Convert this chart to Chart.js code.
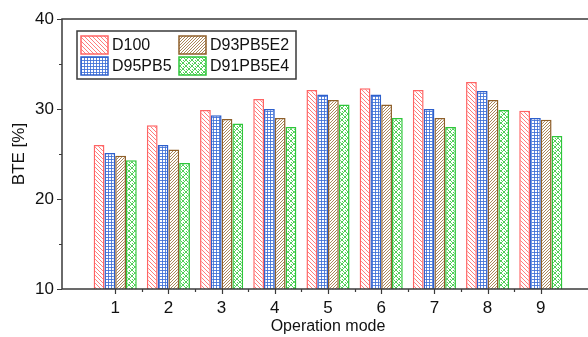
<!DOCTYPE html>
<html>
<head>
<meta charset="utf-8">
<script src="https://cdn.jsdelivr.net/npm/chart.js@4/dist/chart.umd.min.js"></script>
<style>
  html, body { margin: 0; padding: 0; background: #fff; overflow: hidden; }
  #wrap { position: relative; width: 600px; height: 337px; }
</style>
</head>
<body>
<div id="wrap"><canvas id="chart"></canvas></div>
<script>
// ── Data ──────────────────────────────────────────────────────────────────────
const modes      = [1, 2, 3, 4, 5, 6, 7, 8, 9];
const d100       = [26.0, 28.2, 29.9, 31.1, 32.1, 32.3, 32.1, 33.0, 29.8];
const d95pb5     = [25.1, 26.0, 29.3, 30.0, 31.6, 31.6, 30.0, 32.0, 29.0];
const d93pb5e2   = [24.8, 25.5, 28.9, 29.0, 31.0, 30.5, 29.0, 31.0, 28.8];
const d91pb5e4   = [24.3, 24.0, 28.4, 28.0, 30.5, 29.0, 28.0, 29.9, 27.0];
const yTicks     = [10, 20, 30, 40];

const FONT = "'Liberation Sans', Arial, sans-serif";
const AXIS = '#3a3a3a';

// ── Patterns ──────────────────────────────────────────────────────────────────
function tile(size, draw) {
    const c = document.createElement('canvas');
    c.width = size; c.height = size;
    const g = c.getContext('2d');
    g.fillStyle = '#fff';
    g.fillRect(0, 0, size, size);
    draw(g, size);
    return document.getElementById('chart').getContext('2d').createPattern(c, 'repeat');
}

const patRed = tile(4, (g, s) => {
    g.fillStyle = 'rgba(255,110,110,0.9)';
    for (let i = 0; i < s; i++) g.fillRect(i, i, 1, 1);
});
const patBlue = tile(3, (g, s) => {
    g.fillStyle = 'rgba(60,110,215,0.85)';
    g.fillRect(0, 0, s, 1);
    g.fillRect(0, 0, 1, s);
});
const patBrown = tile(3, (g, s) => {
    g.fillStyle = 'rgba(160,120,70,0.9)';
    for (let i = 0; i < s; i++) g.fillRect(s - 1 - i, i, 1, 1);
});
const patGreen = tile(6, (g, s) => {
    g.fillStyle = 'rgba(50,200,60,0.85)';
    for (let i = 0; i < s; i++) {
        g.fillRect(i, i, 1, 1);
        g.fillRect(s - 1 - i, i, 1, 1);
    }
    g.fillRect(0, 3, 1, 1);
    g.fillRect(3, 0, 1, 1);
});

const series = [
    { label: 'D100',     values: d100,     fill: patRed,   border: '#ff6464' },
    { label: 'D95PB5',   values: d95pb5,   fill: patBlue,  border: '#2d5fcc' },
    { label: 'D93PB5E2', values: d93pb5e2, fill: patBrown, border: '#8e5f2a' },
    { label: 'D91PB5E4', values: d91pb5e4, fill: patGreen, border: '#2ec63a' }
];

// ── Frame, ticks and legend ──────────────────────────────────────────────────
const framePlugin = {
    id: 'frame',
    afterDraw(chart) {
        const { ctx, chartArea: a, scales: { x, y } } = chart;
        ctx.save();
        ctx.strokeStyle = AXIS;
        ctx.lineWidth = 1.5;
        ctx.strokeRect(a.left, a.top, a.right - a.left, a.bottom - a.top);

        ctx.lineWidth = 1.2;
        ctx.beginPath();
        for (let v = 10; v <= 40; v += 5) {
            const py = Math.round(y.getPixelForValue(v)) + 0.5;
            const len = v % 10 === 0 ? 5 : 3;
            ctx.moveTo(a.left - len, py);
            ctx.lineTo(a.left, py);
        }
        modes.forEach(m => {
            const px = Math.round(x.getPixelForValue(m)) + 0.5;
            ctx.moveTo(px, a.bottom);
            ctx.lineTo(px, a.bottom + 5);
            if (m < 9) {
                const mx = Math.round(x.getPixelForValue(m + 0.5)) + 0.5;
                ctx.moveTo(mx, a.bottom);
                ctx.lineTo(mx, a.bottom + 3);
            }
        });
        ctx.stroke();

        // legend box
        ctx.fillStyle = '#fff';
        ctx.fillRect(77, 31, 219, 48);
        ctx.strokeStyle = AXIS;
        ctx.lineWidth = 1.5;
        ctx.strokeRect(77, 31, 219, 48);

        const slots = [[81, 36], [81, 57], [179, 36], [179, 57]];
        const order = [0, 1, 2, 3];
        ctx.font = '16px ' + FONT;
        ctx.textBaseline = 'middle';
        order.forEach((si, k) => {
            const s = series[si];
            const [sx, sy] = slots[k];
            ctx.fillStyle = s.fill;
            ctx.fillRect(sx, sy, 27, 18);
            ctx.strokeStyle = s.border;
            ctx.lineWidth = 1.5;
            ctx.strokeRect(sx, sy, 27, 18);
            ctx.fillStyle = '#111';
            ctx.fillText(s.label, sx + 31, sy + 10);
        });
        ctx.restore();
    }
};

// ── Chart ─────────────────────────────────────────────────────────────────────
new Chart(document.getElementById('chart'), {
    type: 'bar',
    data: {
        datasets: series.map(s => ({
            label: s.label,
            data: modes.map((m, i) => ({ x: m, y: s.values[i] })),
            backgroundColor: s.fill,
            borderColor: s.border,
            borderWidth: 1.5,
            categoryPercentage: 0.81,
            barPercentage: 1.0
        }))
    },
    options: {
        responsive: true,
        maintainAspectRatio: false,
        animation: false,
        layout: { padding: { top: 19, right: 6, left: 0, bottom: 0 } },
        plugins: {
            legend: { display: false },
            tooltip: { enabled: false }
        },
        scales: {
            x: {
                type: 'linear',
                min: 0,
                max: 10,
                offset: false,
                grid: { display: false, drawTicks: false, offset: false },
                border: { display: false },
                afterFit: s => { s.height = 48; },
                afterBuildTicks: s => { s.ticks = modes.map(v => ({ value: v })); },
                ticks: {
                    autoSkip: false,
                    maxRotation: 0,
                    padding: 9,
                    color: '#111',
                    font: { family: FONT, size: 17 },
                    callback: v => String(v)
                },
                title: {
                    display: true,
                    text: 'Operation mode',
                    color: '#111',
                    font: { family: FONT, size: 16 },
                    padding: { top: 0, bottom: 1 }
                }
            },
            y: {
                min: 10,
                max: 40,
                grid: { display: false, drawTicks: false },
                border: { display: false },
                afterFit: s => { s.width = 62; },
                afterBuildTicks: s => { s.ticks = yTicks.map(v => ({ value: v })); },
                ticks: {
                    padding: 8,
                    color: '#111',
                    font: { family: FONT, size: 17 }
                },
                title: {
                    display: true,
                    text: 'BTE [%]',
                    color: '#111',
                    font: { family: FONT, size: 17 },
                    padding: { top: 9, bottom: 0 }
                }
            }
        }
    },
    plugins: [framePlugin]
});
</script>
</body>
</html>
